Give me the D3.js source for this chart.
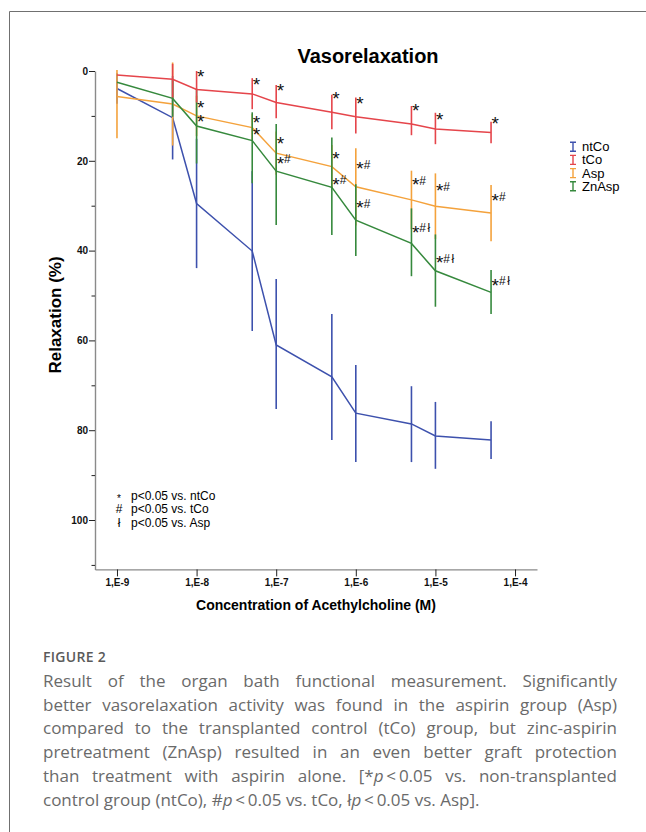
<!DOCTYPE html>
<html>
<head>
<meta charset="utf-8">
<script src="https://cdn.jsdelivr.net/npm/d3@7"></script>
<style>
  body { margin: 0; background: #fff; }
  #wrap { position: relative; width: 646px; height: 832px; overflow: hidden; }
  #chart { position: absolute; left: 0; top: 0; }
  #caption { position: absolute; left: 43px; top: 647px; width: 574px; font-family: "Open Sans", sans-serif; color: #6a6a6a; }
  #caption .fig { font-size: 14px; line-height: 20px; font-weight: 600; letter-spacing: 0.3px; color: #5a5a5a; margin-bottom: 2px; }
  #caption .ln { font-size: 17px; line-height: 23.7px; white-space: nowrap; text-align: justify; text-align-last: justify; }
  #caption .ln.last { text-align-last: left; }
</style>
</head>
<body>
<div id="wrap">
  <svg id="chart" width="646" height="832"></svg>
  <div id="caption">
    <div class="fig">FIGURE 2</div>
    <div class="ln">Result of the organ bath functional measurement. Significantly</div>
    <div class="ln">better vasorelaxation activity was found in the aspirin group (Asp)</div>
    <div class="ln">compared to the transplanted control (tCo) group, but zinc-aspirin</div>
    <div class="ln">pretreatment (ZnAsp) resulted in an even better graft protection</div>
    <div class="ln">than treatment with aspirin alone. [*<i>p</i>&#8201;&lt;&#8201;0.05 vs. non-transplanted</div>
    <div class="ln last">control group (ntCo), #<i>p</i>&#8201;&lt;&#8201;0.05 vs. tCo, ł<i>p</i>&#8201;&lt;&#8201;0.05 vs. Asp].</div>
  </div>
</div>
<script>
// acetylcholine concentrations (M)
const conc = [1e-9, 5e-9, 1e-8, 5e-8, 1e-7, 5e-7, 1e-6, 5e-6, 1e-5, 5e-5];

// relaxation (%) mean with error bar ends
const ntCoMean = [3.9, 10.4, 29.5, 40.1, 61.0, 68.1, 76.2, 78.6, 81.3, 82.2];
const ntCoLo   = [0.5, 1.1, 15.1, 22.3, 46.3, 54.1, 65.5, 70.2, 73.7, 78.0];
const ntCoHi   = [7.3, 19.7, 43.9, 57.9, 75.3, 82.2, 87.1, 87.1, 88.6, 86.4];

const tCoMean = [0.9, 1.85, 4.1, 5.1, 7.0, 9.2, 10.2, 11.8, 12.9, 13.7];
const tCoLo   = [0.9, -1.6, 0.0, 1.6, 3.1, 5.3, 5.9, 7.8, 9.3, 11.3];
const tCoHi   = [0.9, 5.9, 7.0, 8.5, 10.5, 13.0, 13.9, 14.3, 16.3, 16.1];

const aspMean = [5.7, 7.35, 10.0, 12.6, 18.3, 21.3, 25.8, 28.7, 30.1, 31.6];
const aspLo   = [-0.2, -1.9, 5.5, 9.6, 13.5, 16.5, 17.2, 22.2, 22.8, 25.4];
const aspHi   = [15.0, 16.6, 14.5, 15.6, 23.1, 26.1, 34.4, 35.2, 37.4, 37.9];

const znAspMean = [2.5, 6.1, 12.25, 15.5, 22.3, 25.9, 33.2, 38.4, 44.5, 49.3];
const znAspLo   = [2.5, 2.0, 3.9, 9.2, 11.8, 14.8, 25.2, 30.6, 36.4, 44.3];
const znAspHi   = [2.5, 10.2, 20.6, 25.0, 34.3, 36.5, 41.2, 45.7, 52.5, 54.1];

// significance marks and where they sit (relaxation %)
const tCoMarks    = ["", "", "*", "*", "*", "*", "*", "*", "*", "*"];
const tCoMarkY    = [0, 0, 0.3, 2.2, 3.5, 5.3, 6.3, 8.0, 9.8, 10.7];
const aspMarks    = ["", "", "*", "*", "*", "*", "*#", "*#", "*#", "*#"];
const aspMarkY    = [0, 0, 7.3, 10.5, 15.2, 18.5, 20.9, 24.4, 25.8, 28.0];
const znAspMarks  = ["", "", "*", "*", "*#", "*#", "*#", "*#ł", "*#ł", "*#ł"];
const znAspMarkY  = [0, 0, 10.3, 13.3, 19.6, 24.3, 29.6, 35.0, 41.7, 46.8];

const groups = ["ntCo", "tCo", "Asp", "ZnAsp"];
const xTicks = [1e-9, 1e-8, 1e-7, 1e-6, 1e-5, 1e-4];
const yTicks = d3.range(0, 111, 10);
const noteSymbols = ["*", "#", "ł"];
const noteTexts = ["p<0.05 vs. ntCo", "p<0.05 vs. tCo", "p<0.05 vs. Asp"];

const colors = { ntCo: "#3d51ad", tCo: "#e5454b", Asp: "#f4a23c", ZnAsp: "#36893d" };

const series = {
  ntCo:  { mean: ntCoMean,  lo: ntCoLo,  hi: ntCoHi },
  tCo:   { mean: tCoMean,   lo: tCoLo,   hi: tCoHi,   marks: tCoMarks,   markY: tCoMarkY },
  Asp:   { mean: aspMean,   lo: aspLo,   hi: aspHi,   marks: aspMarks,   markY: aspMarkY },
  ZnAsp: { mean: znAspMean, lo: znAspLo, hi: znAspHi, marks: znAspMarks, markY: znAspMarkY }
};
// tCo ends up on top in the original
const drawOrder = ["ntCo", "Asp", "ZnAsp", "tCo"];

const svg = d3.select("#chart");
const font = "Arial, 'Liberation Sans', sans-serif";

// frame
svg.append("path")
  .attr("d", "M9.5,840V11.5H660")
  .attr("fill", "none")
  .attr("stroke", "#707070")
  .attr("stroke-width", 1);

const x = d3.scaleLog().domain([Math.pow(10, -9.276), Math.pow(10, -3.724)]).range([95, 537]);
const y = d3.scaleLinear().domain([0, 111]).range([71, 569.4]);

// title
svg.append("text")
  .attr("x", 368).attr("y", 63)
  .attr("text-anchor", "middle")
  .attr("font-family", font).attr("font-weight", "bold").attr("font-size", 20)
  .text("Vasorelaxation");

// y axis
const yAxis = svg.append("g")
  .attr("transform", "translate(95,0)")
  .call(d3.axisLeft(y).tickValues(yTicks).tickFormat(d => (d % 20 === 0 ? d : "")).tickSizeOuter(0).tickPadding(2));
yAxis.select(".domain").attr("stroke", "#8a8a8a").attr("stroke-width", 1.4);
yAxis.selectAll(".tick line")
  .attr("stroke", "#222")
  .attr("x2", d => (d % 20 === 0 ? -6 : -3.5));
yAxis.selectAll(".tick text")
  .attr("x", -7)
  .attr("font-family", font).attr("font-weight", "bold").attr("font-size", 10).attr("fill", "#111");

// x axis
const xAxis = svg.append("g")
  .attr("transform", "translate(0,569.4)")
  .call(d3.axisBottom(x).tickValues(xTicks)
    .tickFormat(d => "1,E" + Math.round(Math.log10(d)))
    .tickSize(7).tickSizeOuter(0).tickPadding(3));
xAxis.select(".domain").attr("stroke", "#8a8a8a").attr("stroke-width", 1.4);
xAxis.selectAll(".tick line").attr("stroke", "#222");
xAxis.selectAll(".tick text")
  .attr("font-family", font).attr("font-weight", "bold").attr("font-size", 10).attr("fill", "#111");

// axis titles
svg.append("text")
  .attr("transform", "translate(55,315) rotate(-90)")
  .attr("text-anchor", "middle").attr("dominant-baseline", "central")
  .attr("font-family", font).attr("font-weight", "bold").attr("font-size", 17)
  .text("Relaxation (%)");
svg.append("text")
  .attr("x", 316).attr("y", 610)
  .attr("text-anchor", "middle")
  .attr("font-family", font).attr("font-weight", "bold").attr("font-size", 14)
  .text("Concentration of Acethylcholine (M)");

const plot = svg.append("g");
const idx = d3.range(conc.length);

drawOrder.forEach(name => {
  const s = series[name];
  const g = plot.append("g");
  g.append("path")
    .datum(idx)
    .attr("fill", "none")
    .attr("stroke", colors[name])
    .attr("stroke-width", 1.5)
    .attr("d", d3.line().x(i => x(conc[i])).y(i => y(s.mean[i])));
  g.selectAll("line")
    .data(idx.filter(i => s.hi[i] > s.lo[i]))
    .join("line")
    .attr("x1", i => x(conc[i])).attr("x2", i => x(conc[i]))
    .attr("y1", i => y(s.lo[i])).attr("y2", i => y(s.hi[i]))
    .attr("stroke", colors[name])
    .attr("stroke-width", 1.6);
});

// significance marks: star centred on the value, # and ł centred beside it
const marks = plot.append("g");
["tCo", "Asp", "ZnAsp"].forEach(name => {
  const s = series[name];
  idx.filter(i => s.marks[i]).forEach(i => {
    const txt = s.marks[i];
    const t = marks.append("text")
      .attr("x", x(conc[i]) + 0.5)
      .attr("y", y(s.markY[i]))
      .attr("font-family", font).attr("font-size", 19).attr("fill", "#111");
    t.append("tspan").attr("dy", 10.5).text("*");
    if (txt.length > 1) {
      t.append("tspan").attr("dy", -6.2).attr("font-size", 12).attr("letter-spacing", 1.5).text(txt.slice(1));
    }
  });
});

// group legend
const legend = svg.append("g").attr("transform", "translate(573,146.7)");
groups.forEach((name, i) => {
  const row = legend.append("g").attr("transform", `translate(0,${i * 13.2})`);
  row.append("path")
    .attr("d", "M-3,-4.5H3M0,-4.5V4.5M-3,4.5H3")
    .attr("fill", "none")
    .attr("stroke", colors[name])
    .attr("stroke-width", 1.4);
  row.append("text")
    .attr("x", 9).attr("dy", "0.35em")
    .attr("font-family", font).attr("font-size", 13)
    .text(name);
});

// significance note
const note = svg.append("g").attr("transform", "translate(119,496)");
noteSymbols.forEach((sym, i) => {
  note.append("text")
    .attr("y", i * 13.2).attr("dy", sym === "*" ? "0.55em" : "0.35em")
    .attr("text-anchor", "middle")
    .attr("font-family", font).attr("font-size", sym === "*" ? 10 : 12)
    .text(sym);
  note.append("text")
    .attr("x", 12).attr("y", i * 13.2).attr("dy", "0.35em")
    .attr("font-family", font).attr("font-size", 12)
    .text(noteTexts[i]);
});
</script>
</body>
</html>
